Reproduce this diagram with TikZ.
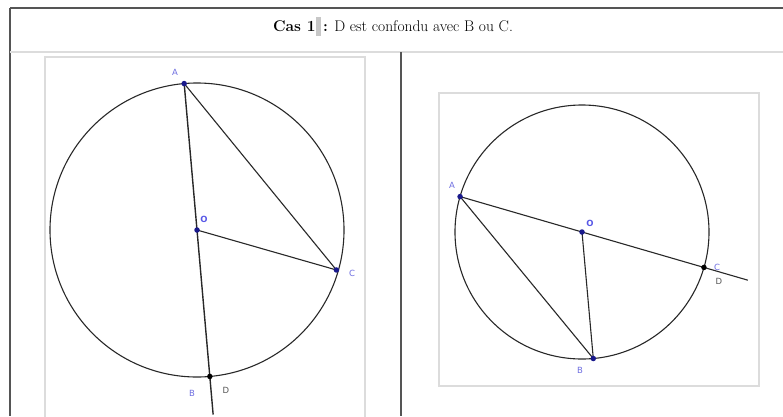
\documentclass[tikz,border=0pt]{standalone}
\usepackage{fontspec}
\newfontfamily\geo{DejaVu Sans}
\usetikzlibrary{calc}
\definecolor{lbl}{RGB}{110,110,225}
\definecolor{ptc}{RGB}{25,25,140}
\definecolor{frm}{RGB}{220,220,220}
\definecolor{rulec}{RGB}{85,85,85}
\definecolor{geom}{RGB}{40,40,40}
\begin{document}
\begin{tikzpicture}[x=1pt,y=-1pt,
  geoline/.style={draw=geom,line width=1.1pt},
  frame/.style={draw=frm,line width=1.4pt},
  bluept/.style={circle,fill=ptc,inner sep=0pt,minimum size=5.5pt},
  blackpt/.style={circle,fill=black,inner sep=0pt,minimum size=5.5pt},
  lab/.style={text=lbl,font=\geo\fontsize{8.5}{8.5}\selectfont,inner sep=0pt},
  labd/.style={text=geom!80,font=\geo\fontsize{8.5}{8.5}\selectfont,inner sep=0pt},
  labo/.style={text=lbl!80!blue,font=\geo\bfseries\fontsize{8.5}{8.5}\selectfont,inner sep=0pt}]
\useasboundingbox (0,0) rectangle (783,416);
\fill[white] (0,0) rectangle (783,416);
% table rules
\draw[rulec,line width=1.6pt] (10,8) -- (783,8);
\draw[rulec,line width=1.6pt] (10,8) -- (10,416);
\draw[frm,line width=1.2pt] (10,52) -- (783,52);
\draw[rulec,line width=1.6pt] (401,52) -- (401,416);
% header
\node[font=\fontsize{15.5}{18}\selectfont,inner sep=0pt] (title) at (393,26)
  {\textbf{Cas 1}\textcolor{black!22}{\rule[-4pt]{5pt}{19pt}}\,\textbf{:} D est confondu avec B ou C.};
% frames
\draw[frame] (45,420) -- (45,57) -- (365,57) -- (365,420);
\draw[frame] (439,93) rectangle (759,386);
% left figure
\coordinate (O1) at (197,230);
\draw[geoline] (O1) circle[radius=147];
\coordinate (A1) at ($(O1)+(-95:147)$);
\coordinate (C1) at ($(O1)+(16:145)$);
\coordinate (D1) at ($(O1)+(85:147)$);
\coordinate (E1) at ($(A1)!1.13!(D1)$);
\draw[geoline,line width=1.4pt] (A1) -- (E1);
\draw[geoline] (A1) -- (C1);
\draw[geoline] (O1) -- (C1);
\node[bluept] (pA1) at (A1) {};
\node[bluept] (pO1) at (O1) {};
\node[bluept] (pC1) at (C1) {};
\node[blackpt] (pD1) at (D1) {};
\node[lab] (lA1) at (175,72) {A};
\node[labo] (lO1) at (204,219) {O};
\node[lab] (lC1) at (352,273) {C};
\node[lab] (lB1) at (192,393) {B};
\node[labd] (lD1) at (226,390) {D};
% right figure
\coordinate (O2) at (582,232);
\draw[geoline] (O2) circle[radius=127];
\coordinate (A2) at ($(O2)+(-163.8:127)$);
\coordinate (C2) at ($(O2)+(16.2:127)$);
\coordinate (B2) at ($(O2)+(84.9:127)$);
\coordinate (E2) at ($(A2)!1.18!(C2)$);
\draw[geoline] (A2) -- (E2);
\draw[geoline] (A2) -- (B2);
\draw[geoline] (O2) -- (B2);
\node[bluept] (pA2) at (A2) {};
\node[bluept] (pO2) at (O2) {};
\node[bluept] (pB2) at (B2) {};
\node[blackpt] (pC2) at (C2) {};
\node[lab] (lA2) at (452,185) {A};
\node[labo] (lO2) at (590,223) {O};
\node[lab] (lC2) at (717,267) {C};
\node[labd] (lD2) at (719,281) {D};
\node[lab] (lB2) at (580,370) {B};
\end{tikzpicture}
\end{document}
